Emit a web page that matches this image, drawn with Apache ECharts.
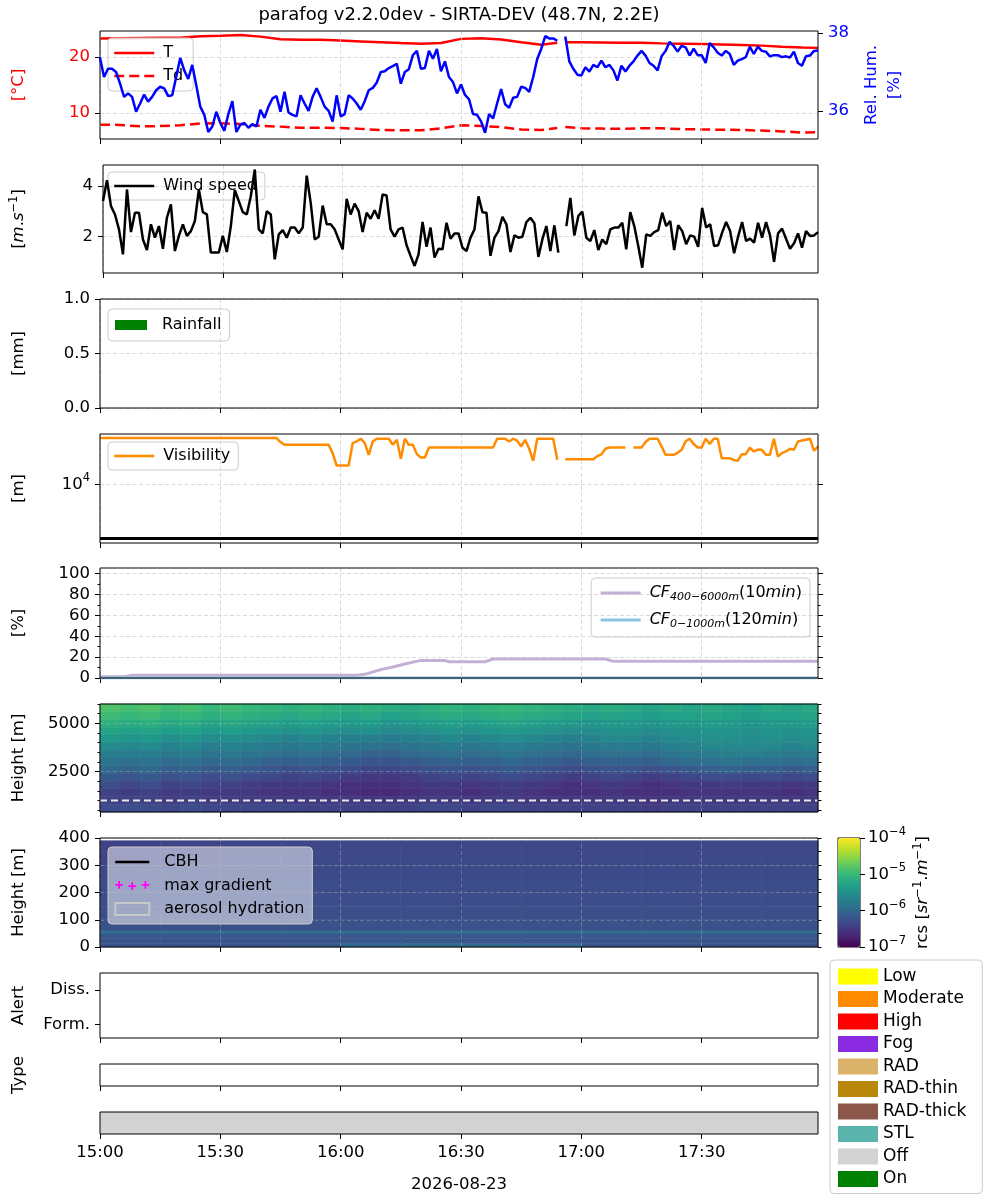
<!DOCTYPE html>
<html>
<head>
<meta charset="utf-8">
<title>parafog</title>
<script src="https://cdn.jsdelivr.net/npm/echarts@6/dist/echarts.min.js"></script>
<style>
html,body{margin:0;padding:0;background:#fff}
#main{width:1000px;height:1200px}
</style>
</head>
<body>
<div id="main"></div>
<script>
var FONT = 'DejaVu Sans';

// time axis: minutes after 15:00, one value per minute
var startHour = 15;
var nMinutes = 180;
var tEnd = 179;
var timeTicks = [0, 30, 60, 90, 120, 150];

// relative humidity [%], 1 min
var rhPct = [
  37.37,36.87,37.08,37.08,37.00,36.70,36.36,36.45,36.36,35.98,
  36.19,36.42,36.24,36.36,36.53,36.62,36.58,36.38,36.40,36.87,
  37.36,37.04,36.82,37.18,36.66,36.11,35.90,35.46,35.60,35.98,
  35.69,35.49,35.92,36.25,35.46,35.65,35.69,35.57,35.66,35.60,
  36.03,35.82,36.11,36.32,36.38,35.98,36.49,35.96,35.90,35.86,
  36.40,36.19,36.00,36.36,36.58,36.36,36.11,36.00,35.73,36.40,
  35.86,35.92,36.40,36.32,36.19,36.03,36.25,36.53,36.59,36.73,
  37.00,37.02,37.10,37.15,37.21,36.70,37.00,37.07,37.43,37.54,
  37.08,37.10,37.54,37.34,37.59,37.02,37.27,36.87,36.74,36.45,
  36.68,36.41,36.30,35.92,35.90,35.73,35.44,35.92,35.81,36.19,
  36.56,36.17,36.08,36.34,36.36,36.62,36.59,36.49,36.87,37.33,
  37.59,37.92,37.86,37.86,37.80,null,37.91,37.27,37.08,36.93,
  36.91,37.12,37.01,37.18,37.12,37.29,37.12,37.18,37.04,36.78,
  37.16,37.01,37.16,37.27,37.42,37.54,37.42,37.23,37.16,37.04,
  37.40,37.54,37.77,37.67,37.52,37.67,37.63,37.42,37.60,37.43,
  37.43,37.23,37.74,37.63,37.49,37.42,37.54,37.46,37.18,37.29,
  37.33,37.38,37.65,37.46,37.65,37.54,37.52,37.40,37.43,37.43,
  37.38,37.40,37.37,37.52,37.23,37.16,37.40,37.42,37.54,37.55
];

// temperature and dew point [degC], read every 5 min
var tTimes = [0,5,10,15,20,25,30,35,40,45,50,55,60,65,70,75,80,85,90,95,100,105,110,114,115,116,120,125,130,135,140,145,150,155,160,165,170,175,179];
var tempT = [23.25,23.3,23.35,23.4,23.4,23.65,23.75,23.9,23.6,23.15,23.05,23.05,22.9,22.75,22.6,22.45,22.35,22.45,23.2,23.3,23.1,22.6,22.15,22.5,null,22.6,22.6,22.55,22.5,22.5,22.4,22.35,22.3,22.2,22.1,22.0,21.8,21.65,21.6];
var tempTd = [7.95,7.9,7.65,7.7,7.85,8.15,8.2,8.05,7.75,7.6,7.4,7.4,7.35,7.2,7.0,6.95,6.95,7.3,7.85,7.7,7.5,7.1,7.0,7.35,null,7.55,7.3,7.25,7.2,7.3,7.3,7.15,7.1,7.05,7.0,6.9,6.75,6.55,6.6];

// wind speed [m/s], 1 min
var windSpeed = [
  3.41,4.24,3.21,2.88,2.29,1.30,3.87,2.18,2.95,2.95,
  1.89,1.47,2.49,1.96,2.42,1.52,2.75,3.28,1.43,2.03,
  2.49,2.03,2.22,2.62,3.87,2.97,2.88,1.37,1.37,1.37,
  2.03,1.39,2.42,3.84,3.41,2.97,2.88,3.60,4.66,2.29,
  2.13,3.01,2.88,1.10,2.09,2.26,1.96,2.36,2.36,2.13,
  2.36,4.42,3.34,1.89,2.00,3.23,2.49,2.49,2.29,1.89,
  1.50,3.50,2.88,3.31,3.01,2.18,2.95,2.71,3.05,2.71,
  3.67,3.63,2.29,2.00,2.29,2.36,1.66,1.24,0.84,1.30,
  2.58,1.60,2.36,1.17,1.52,1.50,2.55,1.92,2.13,2.13,
  1.56,1.43,1.96,2.29,3.60,2.97,2.95,1.24,1.96,2.22,
  2.79,2.49,1.39,2.05,1.96,2.00,2.58,2.75,2.53,1.20,
  1.90,2.42,1.43,2.45,1.37,null,2.42,3.54,2.05,2.82,
  2.99,1.96,1.83,2.26,1.47,1.89,1.70,2.29,2.36,2.36,
  2.55,1.50,2.97,2.42,1.63,0.77,2.09,2.03,2.18,2.26,
  2.95,2.42,2.62,1.47,2.45,2.22,1.70,2.05,2.00,1.60,
  3.14,2.36,2.49,1.63,1.66,2.16,2.58,2.22,1.34,2.00,
  2.58,1.83,1.92,1.76,2.55,1.96,2.58,2.05,1.00,2.13,
  2.32,1.92,1.52,1.74,2.13,1.56,2.22,2.03,2.05,2.18
];

// rainfall [mm]: nothing recorded
var rainfall = [];

// visibility [m], 1 min
var visibility = [
  71100,71100,71100,71100,71100,71100,71100,71100,71100,71100,
  71100,71100,71100,71100,71100,71100,71100,71100,71100,71100,
  71100,71100,71100,71100,71100,71100,71100,71100,71100,71100,
  71100,71100,71100,71100,71100,71100,71100,71100,71100,71100,
  71100,71100,71100,71100,71100,60000,53500,53500,53500,53500,
  53500,53500,53500,53500,53500,53500,53500,53500,37500,22100,
  22100,22100,22100,57400,61500,69000,57400,34900,61500,69000,
  69000,69000,69000,53500,66000,29400,69000,53500,53500,35900,
  31100,31100,47600,47600,47600,47600,47600,47600,47600,47600,
  47600,47600,47600,47600,47600,47600,47600,47600,47600,69000,
  69000,69000,61500,69000,63400,49700,66000,45000,27000,69000,
  69000,69000,69000,69000,28200,null,29000,29000,29000,29000,
  29000,29000,29000,29000,33000,35500,45100,47600,47600,47600,
  47600,47600,null,47600,47600,47600,60000,69000,69000,69000,
  50000,34900,34900,34900,38000,43200,62000,69000,55000,47600,
  47600,69000,55000,69000,69000,30300,30300,30300,28000,27000,
  35900,35900,47000,40200,43200,43200,34900,34900,69000,32500,
  37500,40200,45100,43200,61500,64000,66000,69000,41400,49700
];
var fogThreshold = 1000;

// cloud fraction [%]
var cfTimes = [0,6,8,64,66,70,73,76,80,86,87,96,98,126,128,179];
var cfHigh = [1.2,1.2,2.6,2.6,3.5,8,10.5,13.4,16.9,16.9,15.6,15.6,18.2,18.2,16,16];
var cfLowTimes = [0,179];
var cfLow = [0,0];

// range corrected signal, log10(rcs), 400-6000 m, 5 min x 400 m cells (top row first)
var rcsStep = 5;
var rcsUpperBottoms = [5600,5200,4800,4400,4000,3600,3200,2800,2400,2000,1600,1200,800,400];
var rcsUpperDepth = 400;
var rcsUpper = [
  [-4.85,-4.90,-4.85,-4.95,-4.90,-5.00,-4.95,-5.00,-5.05,-5.10,-5.05,-5.10,
   -5.15,-5.10,-5.15,-5.20,-5.10,-5.05,-5.10,-5.05,-5.00,-5.05,-5.10,-5.15,
   -5.20,-5.15,-5.20,-5.25,-5.20,-5.25,-5.20,-5.25,-5.30,-5.20,-5.25,-5.20],
  [-4.95,-5.00,-4.95,-5.05,-5.00,-5.10,-5.05,-5.10,-5.15,-5.20,-5.15,-5.20,
   -5.25,-5.20,-5.30,-5.25,-5.20,-5.15,-5.20,-5.15,-5.10,-5.15,-5.20,-5.25,
   -5.30,-5.25,-5.30,-5.35,-5.30,-5.30,-5.25,-5.30,-5.35,-5.30,-5.30,-5.25],
  [-5.10,-5.15,-5.10,-5.20,-5.15,-5.25,-5.20,-5.25,-5.30,-5.35,-5.30,-5.35,
   -5.40,-5.35,-5.45,-5.40,-5.35,-5.30,-5.35,-5.30,-5.25,-5.30,-5.35,-5.40,
   -5.45,-5.40,-5.40,-5.45,-5.40,-5.40,-5.35,-5.40,-5.45,-5.40,-5.40,-5.35],
  [-5.25,-5.30,-5.25,-5.35,-5.30,-5.40,-5.35,-5.40,-5.45,-5.50,-5.45,-5.50,
   -5.55,-5.50,-5.60,-5.55,-5.50,-5.45,-5.50,-5.45,-5.40,-5.45,-5.50,-5.55,
   -5.55,-5.50,-5.50,-5.55,-5.50,-5.50,-5.45,-5.45,-5.50,-5.45,-5.50,-5.45],
  [-5.40,-5.45,-5.40,-5.50,-5.45,-5.55,-5.50,-5.55,-5.60,-5.65,-5.60,-5.65,
   -5.70,-5.70,-5.75,-5.70,-5.65,-5.60,-5.65,-5.60,-5.55,-5.60,-5.65,-5.70,
   -5.65,-5.60,-5.60,-5.65,-5.60,-5.55,-5.50,-5.50,-5.55,-5.50,-5.55,-5.50],
  [-5.55,-5.60,-5.55,-5.65,-5.60,-5.70,-5.65,-5.70,-5.75,-5.80,-5.75,-5.80,
   -5.85,-5.85,-5.90,-5.85,-5.80,-5.75,-5.80,-5.75,-5.70,-5.75,-5.80,-5.85,
   -5.80,-5.75,-5.75,-5.80,-5.70,-5.65,-5.60,-5.60,-5.60,-5.60,-5.65,-5.60],
  [-5.70,-5.75,-5.70,-5.80,-5.75,-5.85,-5.80,-5.85,-5.90,-5.95,-5.90,-5.95,
   -6.00,-6.05,-6.05,-6.00,-5.95,-5.90,-5.95,-5.90,-5.85,-5.90,-5.95,-6.00,
   -5.95,-5.90,-5.90,-5.95,-5.85,-5.80,-5.75,-5.70,-5.70,-5.75,-5.80,-5.75],
  [-5.85,-5.90,-5.85,-5.95,-5.90,-6.00,-5.95,-6.00,-6.05,-6.10,-6.05,-6.10,
   -6.15,-6.20,-6.20,-6.15,-6.10,-6.05,-6.10,-6.05,-6.00,-6.05,-6.10,-6.15,
   -6.10,-6.05,-6.05,-6.10,-6.00,-5.95,-5.90,-5.85,-5.90,-5.90,-5.95,-5.90],
  [-6.00,-6.05,-6.00,-6.10,-6.05,-6.15,-6.10,-6.15,-6.20,-6.25,-6.20,-6.25,
   -6.30,-6.35,-6.35,-6.30,-6.25,-6.20,-6.25,-6.20,-6.15,-6.20,-6.25,-6.30,
   -6.25,-6.20,-6.20,-6.25,-6.20,-6.15,-6.10,-6.05,-6.10,-6.10,-6.15,-6.10],
  [-6.15,-6.20,-6.15,-6.25,-6.20,-6.30,-6.25,-6.30,-6.35,-6.40,-6.35,-6.40,
   -6.45,-6.50,-6.50,-6.45,-6.40,-6.35,-6.40,-6.35,-6.30,-6.35,-6.40,-6.45,
   -6.40,-6.35,-6.40,-6.45,-6.40,-6.35,-6.30,-6.30,-6.35,-6.30,-6.35,-6.30],
  [-6.30,-6.35,-6.30,-6.40,-6.35,-6.40,-6.40,-6.45,-6.50,-6.50,-6.50,-6.55,
   -6.60,-6.60,-6.60,-6.55,-6.50,-6.50,-6.55,-6.50,-6.45,-6.50,-6.55,-6.60,
   -6.55,-6.50,-6.55,-6.60,-6.55,-6.50,-6.50,-6.45,-6.50,-6.50,-6.55,-6.50],
  [-6.40,-6.45,-6.40,-6.45,-6.45,-6.50,-6.50,-6.50,-6.55,-6.55,-6.55,-6.60,
   -6.60,-6.65,-6.65,-6.60,-6.55,-6.55,-6.60,-6.55,-6.50,-6.55,-6.60,-6.60,
   -6.60,-6.55,-6.60,-6.60,-6.60,-6.55,-6.55,-6.55,-6.55,-6.55,-6.60,-6.55],
  [-6.40,-6.40,-6.40,-6.45,-6.40,-6.45,-6.45,-6.45,-6.45,-6.50,-6.50,-6.50,
   -6.50,-6.50,-6.50,-6.50,-6.45,-6.45,-6.50,-6.45,-6.45,-6.50,-6.50,-6.50,
   -6.50,-6.50,-6.50,-6.55,-6.50,-6.50,-6.50,-6.50,-6.50,-6.50,-6.50,-6.50],
  [-6.30,-6.30,-6.30,-6.35,-6.30,-6.35,-6.35,-6.35,-6.35,-6.35,-6.40,-6.40,
   -6.40,-6.40,-6.40,-6.40,-6.35,-6.35,-6.40,-6.35,-6.35,-6.40,-6.40,-6.40,
   -6.40,-6.40,-6.40,-6.45,-6.40,-6.40,-6.40,-6.40,-6.40,-6.40,-6.40,-6.40]
];
var rcsRefHeight = 1000;

// log10(rcs), 0-390 m, 15 min columns, rows from the ground up
var rcsLowerStep = 15;
var rcsLowerEdges = [0,14,30,44,54,62,100,150,200,250,300,350,390];
var rcsLower = [
  [-6.25,-6.25,-6.22,-6.15,-6.00,-5.95,-5.95,-6.00,-6.20,-6.25,-6.25,-6.25],
  [-6.22,-6.22,-6.22,-6.20,-6.18,-6.18,-6.20,-6.20,-6.22,-6.22,-6.22,-6.22],
  [-6.20,-6.20,-6.20,-6.20,-6.20,-6.20,-6.20,-6.20,-6.20,-6.20,-6.20,-6.20],
  [-6.10,-6.10,-6.10,-6.10,-6.10,-6.08,-6.08,-6.10,-6.10,-6.10,-6.10,-6.10],
  [-5.95,-5.95,-5.95,-5.95,-5.95,-5.95,-5.95,-5.95,-5.95,-5.95,-5.95,-5.95],
  [-6.25,-6.25,-6.25,-6.25,-6.25,-6.25,-6.25,-6.25,-6.25,-6.25,-6.25,-6.25],
  [-6.28,-6.28,-6.28,-6.28,-6.28,-6.28,-6.28,-6.28,-6.28,-6.28,-6.28,-6.28],
  [-6.30,-6.30,-6.30,-6.30,-6.30,-6.30,-6.30,-6.30,-6.30,-6.30,-6.30,-6.30],
  [-6.30,-6.30,-6.30,-6.30,-6.30,-6.30,-6.30,-6.30,-6.30,-6.30,-6.30,-6.30],
  [-6.32,-6.32,-6.32,-6.32,-6.32,-6.32,-6.32,-6.32,-6.32,-6.32,-6.32,-6.32],
  [-6.38,-6.36,-6.33,-6.33,-6.33,-6.33,-6.33,-6.33,-6.33,-6.33,-6.33,-6.33],
  [-6.40,-6.38,-6.35,-6.35,-6.35,-6.35,-6.35,-6.35,-6.35,-6.35,-6.35,-6.35]
];

// instrument status over the period
var statusNames = ['Low','Moderate','High','Fog','RAD','RAD-thin','RAD-thick','STL','Off','On'];
var statusColors = {'Low':'#ffff00','Moderate':'#ff8c00','High':'#ff0000','Fog':'#8a2be2','RAD':'#dbb26a',
  'RAD-thin':'#b8860b','RAD-thick':'#8c564b','STL':'#5ab4ac','Off':'#d3d3d3','On':'#008000'};
var statusSegments = [[0, 179, 'Off']];

var viridis = ['#440154','#482878','#3e4989','#31688e','#26828e','#1f9e89','#35b779','#6ece58','#b5de2b','#fde725'];

function fmtTime(m) {
  var h = startHour + Math.floor(m / 60), mm = m % 60;
  return h + ':' + (mm < 10 ? '0' : '') + mm;
}
function pairs(xs, ys) {
  return xs.map(function (x, i) { return [x, ys[i] == null ? '-' : ys[i]]; });
}
var minutes = [];
for (var i = 0; i < nMinutes; i++) minutes.push(i);

var gridLine = {color: '#d0d0d0', type: [4, 2.5], width: 0.8};
var gridLineDark = {color: '#bbbbbb', type: [4, 2.5], width: 0.8, opacity: 0.45};

// panels
var panelTops = [[31,108],[165,108],[299,109],[434,109],[568,110],[704,108],[838,109],[973,65],[1064,22],[1112,22]];
var grids = panelTops.map(function (p) {
  return {left: 100, width: 718, top: p[0], height: p[1], show: true, borderColor: '#000', borderWidth: 1, z: 4};
});
grids.push({left: 838, width: 22, top: 838, height: 109, show: true, borderColor: '#000', borderWidth: 1, z: 4});

var xAxes = [];
for (var g = 0; g < 10; g++) {
  xAxes.push({
    type: 'value', gridIndex: g, min: 0, max: tEnd, z: 3,
    axisLine: {show: false, onZero: false},
    axisTick: {show: true, customValues: timeTicks, length: 5, lineStyle: {color: '#000'}},
    axisLabel: {show: g === 9, customValues: timeTicks, formatter: fmtTime, fontSize: 16.5, color: '#000', margin: 10},
    splitLine: {show: g <= 6, lineStyle: g >= 5 ? gridLineDark : gridLine},
    name: g === 9 ? '2026-08-23' : '', nameLocation: 'middle', nameGap: 42,
    nameTextStyle: {fontSize: 16.5, color: '#000'}
  });
}
xAxes.push({type: 'value', gridIndex: 10, min: 0, max: 1, show: false});

function baseY(gi, min, max, pos) {
  return {
    type: 'value', gridIndex: gi, min: min, max: max, position: pos || 'left', z: 3,
    axisLine: {show: false, onZero: false},
    axisTick: {show: true, length: 5, lineStyle: {color: '#000'}},
    axisLabel: {show: true, fontSize: 16.5, color: '#000', margin: 10, formatter: function (v) { return String(v); }},
    splitLine: {show: false, lineStyle: gridLine},
    nameLocation: 'middle', nameGap: 73, nameRotate: 90,
    nameTextStyle: {fontSize: 16.5, color: '#000'}
  };
}
function tickOnly(gi, min, max, pos, values, len, type) {
  var a = baseY(gi, min, max, pos);
  if (type) a.type = type;
  a.axisTick.customValues = values;
  a.axisTick.length = len;
  a.axisLabel.show = false;
  return a;
}
var supRich = {
  b: {fontSize: 16.5, lineHeight: 24, color: '#000'},
  s: {fontSize: 11.5, lineHeight: 12, verticalAlign: 'top', color: '#000'}
};
function pow10Label(v) { return '{b|10}{s|' + String(v).replace('-', '\u2212') + '}'; }

// 0: temperature, 1: RH
var yT = baseY(0, 5.4, 24.6);
yT.axisTick.customValues = [10, 20]; yT.axisLabel.customValues = [10, 20];
yT.axisLabel.color = '#ff0000'; yT.splitLine.show = true;
yT.name = '[\u00b0C]'; yT.nameTextStyle.color = '#ff0000';
var yRH = baseY(0, 35.28, 38.05, 'right');
yRH.axisTick.customValues = [36, 38]; yRH.axisLabel.customValues = [36, 38];
yRH.axisLabel.color = '#0000ff';
yRH.name = 'Rel. Hum.\n[%]'; yRH.nameGap = 34;
yRH.nameTextStyle = {fontSize: 16.5, color: '#0000ff', lineHeight: 23};
// 2: wind
var yW = baseY(1, 0.56, 4.84);
yW.axisTick.customValues = [2, 4]; yW.axisLabel.customValues = [2, 4]; yW.splitLine.show = true;
yW.name = '[{it|m}.{it|s}{s|\u22121}]';
yW.nameTextStyle.rich = {it: {fontSize: 16.5, fontStyle: 'italic', lineHeight: 22}, s: {fontSize: 11.5, lineHeight: 12, verticalAlign: 'top'}};
// 3: rain
var yR = baseY(2, 0, 1);
yR.interval = 0.5; yR.axisLabel.formatter = function (v) { return v.toFixed(1); };
yR.splitLine.show = true; yR.name = '[mm]';
// 4,5: visibility (log)
var yV = baseY(3, 829, 84300);
yV.type = 'log'; yV.logBase = 10;
yV.axisTick.customValues = [10000]; yV.axisLabel.customValues = [10000];
yV.axisLabel.formatter = function () { return pow10Label(4); };
yV.axisLabel.rich = supRich; yV.splitLine.show = true; yV.name = '[m]';
var yVr = tickOnly(3, 829, 84300, 'right', [10000], 5, 'log'); yVr.logBase = 10;
// 6-9: cloud fraction
var cfMajor = [0, 20, 40, 60, 80, 100], cfMinor = [10, 30, 50, 70, 90];
var yC = baseY(4, 0, 105.5);
yC.axisTick.customValues = cfMajor; yC.axisLabel.customValues = cfMajor;
yC.splitLine.show = true; yC.name = '[%]';
var yCm = tickOnly(4, 0, 105.5, 'left', cfMinor, 2.5);
var yCr = tickOnly(4, 0, 105.5, 'right', cfMajor, 5);
var yCrm = tickOnly(4, 0, 105.5, 'right', cfMinor, 2.5);
// 10-12: rcs 400-6000 m
var hMajor = [2500, 5000];
var hMinor = [500,1000,1500,2000,3000,3500,4000,4500,5500,6000];
var yH = baseY(5, 400, 6000);
yH.axisTick.customValues = hMajor; yH.axisLabel.customValues = hMajor;
yH.splitLine.show = true; yH.splitLine.lineStyle = gridLineDark; yH.name = 'Height [m]';
var yHm = tickOnly(5, 400, 6000, 'left', hMinor, 2.5);
var yHr = tickOnly(5, 400, 6000, 'right', hMinor.concat(hMajor), 3.5);
// 13-14: rcs 0-400 m
var yL = baseY(6, 0, 400);
yL.interval = 100; yL.splitLine.show = true; yL.splitLine.lineStyle = gridLineDark; yL.name = 'Height [m]';
var yLr = tickOnly(6, 0, 400, 'right', [0,50,100,150,200,250,300,350,400], 3.5);
// 15-17: alert, type, status
var alertLabels = {0: 'Form.', 1: 'Diss.'};
var yA = baseY(7, -0.4, 1.5);
yA.axisTick.customValues = [0, 1]; yA.axisLabel.customValues = [0, 1];
yA.axisLabel.formatter = function (v) { return alertLabels[v]; };
yA.name = 'Alert';
var yTy = baseY(8, 0, 1);
yTy.axisTick.show = false; yTy.axisLabel.show = false; yTy.name = 'Type';
var yS = baseY(9, 0, 1);
yS.axisTick.show = false; yS.axisLabel.show = false;
// 18: colorbar
var yCb = baseY(10, -7, -4, 'right');
yCb.interval = 1; yCb.axisLabel.formatter = function (v) { return pow10Label(v); };
yCb.axisLabel.rich = supRich; yCb.axisLabel.margin = 8;
yCb.name = 'rcs [{it|sr}{s|\u22121}.{it|m}{s|\u22121}]'; yCb.nameGap = 52;
yCb.nameTextStyle.rich = {it: {fontSize: 16.5, fontStyle: 'italic', lineHeight: 22}, s: {fontSize: 11.5, lineHeight: 12, verticalAlign: 'top'}};

var yAxes = [yT, yRH, yW, yR, yV, yVr, yC, yCm, yCr, yCrm, yH, yHm, yHr, yL, yLr, yA, yTy, yS, yCb];

// heatmap cells [t0, h0, value, t1, h1]
var upperCells = [];
rcsUpper.forEach(function (row, r) {
  row.forEach(function (v, c) {
    upperCells.push([c * rcsStep, rcsUpperBottoms[r], v, (c + 1) * rcsStep, rcsUpperBottoms[r] + rcsUpperDepth]);
  });
});
var lowerCells = [];
rcsLower.forEach(function (row, r) {
  row.forEach(function (v, c) {
    lowerCells.push([c * rcsLowerStep, rcsLowerEdges[r], v, (c + 1) * rcsLowerStep, rcsLowerEdges[r + 1]]);
  });
});

function cellRenderer(params, api) {
  var p0 = api.coord([api.value(0), api.value(1)]);
  var p1 = api.coord([api.value(3), api.value(4)]);
  var cs = params.coordSys;
  var shape = echarts.graphic.clipRectByRect(
    {x: p0[0], y: p1[1], width: p1[0] - p0[0], height: p0[1] - p1[1]},
    {x: cs.x, y: cs.y, width: cs.width, height: cs.height});
  if (!shape) return;
  var c = api.visual('color');
  return {type: 'rect', shape: shape, style: {fill: c, stroke: c, lineWidth: 0.6}};
}
function statusRenderer(params, api) {
  var p0 = api.coord([api.value(0), 1]);
  var p1 = api.coord([api.value(1), 0]);
  return {type: 'rect', shape: {x: p0[0], y: p0[1], width: p1[0] - p0[0], height: p1[1] - p0[1]},
    style: {fill: statusColors[statusNames[api.value(2)]]}};
}

var series = [
  {name: 'T', type: 'line', xAxisIndex: 0, yAxisIndex: 0, symbol: 'none', data: pairs(tTimes, tempT),
   lineStyle: {color: '#ff0000', width: 2.5}, itemStyle: {color: '#ff0000'}, z: 2},
  {name: 'Td', type: 'line', xAxisIndex: 0, yAxisIndex: 0, symbol: 'none', data: pairs(tTimes, tempTd),
   lineStyle: {color: '#ff0000', width: 2.5, type: [10, 5]}, itemStyle: {color: '#ff0000'}, z: 2},
  {name: 'RH', type: 'line', xAxisIndex: 0, yAxisIndex: 1, symbol: 'none', data: pairs(minutes, rhPct),
   lineStyle: {color: '#0000ff', width: 2.5}, itemStyle: {color: '#0000ff'}, z: 5},
  {name: 'Wind speed', type: 'line', xAxisIndex: 1, yAxisIndex: 2, symbol: 'none', data: pairs(minutes, windSpeed),
   lineStyle: {color: '#000', width: 2.5}, itemStyle: {color: '#000'}},
  {name: 'Rainfall', type: 'bar', xAxisIndex: 2, yAxisIndex: 3, data: rainfall, itemStyle: {color: '#008000'}},
  {name: 'Visibility', type: 'line', xAxisIndex: 3, yAxisIndex: 4, symbol: 'none', data: pairs(minutes, visibility),
   lineStyle: {color: '#ff8c00', width: 2.5}, itemStyle: {color: '#ff8c00'},
   markLine: {silent: true, symbol: 'none', label: {show: false}, lineStyle: {color: '#000', width: 3, type: 'solid'},
     data: [{yAxis: fogThreshold}]}},
  {name: 'CF400', type: 'line', xAxisIndex: 4, yAxisIndex: 6, symbol: 'none', data: pairs(cfTimes, cfHigh),
   lineStyle: {color: '#c5b0d5', width: 3}, itemStyle: {color: '#c5b0d5'}},
  {name: 'CF0', type: 'line', xAxisIndex: 4, yAxisIndex: 6, symbol: 'none', data: pairs(cfLowTimes, cfLow),
   lineStyle: {color: '#8cc4e4', width: 3}, itemStyle: {color: '#8cc4e4'}},
  {name: 'rcs upper', type: 'custom', xAxisIndex: 5, yAxisIndex: 10, renderItem: cellRenderer, data: upperCells,
   encode: {x: [0, 3], y: [1, 4]}, z: 1},
  {name: 'rcs ref', type: 'line', xAxisIndex: 5, yAxisIndex: 10, symbol: 'none',
   data: [[0, rcsRefHeight], [tEnd, rcsRefHeight]],
   lineStyle: {color: '#e6e6e6', width: 2, type: [7, 4]}, z: 3},
  {name: 'rcs lower', type: 'custom', xAxisIndex: 6, yAxisIndex: 13, renderItem: cellRenderer, data: lowerCells,
   encode: {x: [0, 3], y: [1, 4]}, z: 1},
  {name: 'CBH', type: 'line', xAxisIndex: 6, yAxisIndex: 13, symbol: 'none', data: [],
   lineStyle: {color: '#000', width: 2.5}, itemStyle: {color: '#000'}},
  {name: 'max gradient', type: 'scatter', xAxisIndex: 6, yAxisIndex: 13, data: [], itemStyle: {color: '#ff00ff'}},
  {name: 'aerosol hydration', type: 'bar', xAxisIndex: 6, yAxisIndex: 13, data: [],
   itemStyle: {color: 'rgba(0,0,0,0)', borderColor: '#c8c8c8', borderWidth: 2}},
  {name: 'status', type: 'custom', xAxisIndex: 9, yAxisIndex: 17, renderItem: statusRenderer,
   data: statusSegments.map(function (s) { return [s[0], s[1], statusNames.indexOf(s[2])]; }),
   encode: {x: [0, 1]}}
];
statusNames.forEach(function (n) {
  series.push({name: n, type: 'bar', xAxisIndex: 9, yAxisIndex: 17, data: [], itemStyle: {color: statusColors[n]}});
});

var boxStyle = {backgroundColor: 'rgba(255,255,255,0.8)', borderColor: '#cccccc', borderWidth: 1, borderRadius: 4};
function legendAt(o) {
  var l = {orient: 'vertical', itemWidth: 40, itemHeight: 14, itemGap: 7, selectedMode: false,
    itemStyle: {opacity: 0}, lineStyle: {width: 2.5},
    textStyle: {fontSize: 16, color: '#000', padding: [0, 0, 0, 4]}, z: 3};
  for (var k in boxStyle) l[k] = boxStyle[k];
  for (var k2 in o) l[k2] = o[k2];
  return l;
}
var threePlus = 'path://M0,4h7v1.6h-7zM2.7,1.3h1.6v7h-1.6zM12,5h7v1.6h-7zM14.7,2.3h1.6v7h-1.6zM24,4h7v1.6h-7zM26.7,1.3h1.6v7h-1.6z';

var legends = [
  legendAt({data: ['T', 'Td'], left: 108, top: 38, padding: [7, 10, 7, 5]}),
  legendAt({data: ['Wind speed'], left: 108, top: 172, padding: [6, 8, 6, 5]}),
  legendAt({data: ['Rainfall'], left: 108, top: 309, padding: [8, 8, 8, 7], icon: 'rect', itemWidth: 32, itemHeight: 10,
    itemStyle: {}, textStyle: {fontSize: 16, color: '#000', padding: [0, 0, 0, 10]}}),
  legendAt({data: ['Visibility'], left: 108, top: 442, padding: [6, 8, 6, 5]}),
  legendAt({data: ['CF400', 'CF0'], right: 190, top: 578, padding: [7, 8, 7, 8], itemGap: 9, lineStyle: {width: 3},
    formatter: function (n) {
      return n === 'CF400' ? '{it|CF}{sub|400\u22126000m}(10{it|min})' : '{it|CF}{sub|0\u22121000m}(120{it|min})';
    },
    textStyle: {fontSize: 16, color: '#000', padding: [0, 0, 0, 4],
      rich: {it: {fontSize: 16, fontStyle: 'italic', lineHeight: 20}, sub: {fontSize: 11, fontStyle: 'italic', lineHeight: 12, verticalAlign: 'bottom'}}}}),
  legendAt({data: [{name: 'CBH'},
      {name: 'max gradient', icon: threePlus, itemStyle: {color: '#ff00ff', opacity: 1}},
      {name: 'aerosol hydration', icon: 'rect', itemStyle: {color: 'rgba(0,0,0,0)', borderColor: '#c8c8c8', borderWidth: 2, opacity: 1}}],
    left: 108, top: 847, itemWidth: 34, itemHeight: 12, itemGap: 7.5, padding: [7, 8, 7, 6],
    backgroundColor: 'rgba(255,255,255,0.5)',
    textStyle: {fontSize: 16, color: '#000', padding: [0, 0, 0, 10]}}),
  legendAt({data: statusNames, left: 830, top: 960, height: 260, icon: 'rect', itemWidth: 40, itemHeight: 16, itemGap: 5.5,
    padding: [8, 16, 6, 8], backgroundColor: '#fff', itemStyle: {},
    textStyle: {fontSize: 17, color: '#000'}})
];

var chart = echarts.init(document.getElementById('main'), null, {renderer: 'canvas'});
chart.setOption({
  animation: false,
  backgroundColor: '#fff',
  textStyle: {fontFamily: FONT},
  graphic: [{type: 'text', x: 459, y: 15, z: 10,
    style: {text: 'parafog v2.2.0dev - SIRTA-DEV (48.7N, 2.2E)', fontSize: 18, fontFamily: FONT,
      fill: '#000', align: 'center', verticalAlign: 'middle'}}],
  grid: grids,
  xAxis: xAxes,
  yAxis: yAxes,
  legend: legends,
  visualMap: [{type: 'continuous', min: -7, max: -4, dimension: 2, seriesIndex: [8, 10],
    inRange: {color: viridis}, left: 838, top: 838, itemWidth: 22, itemHeight: 109, padding: 0,
    calculable: false, hoverLink: false, text: null}],
  series: series
});
</script>
</body>
</html>
